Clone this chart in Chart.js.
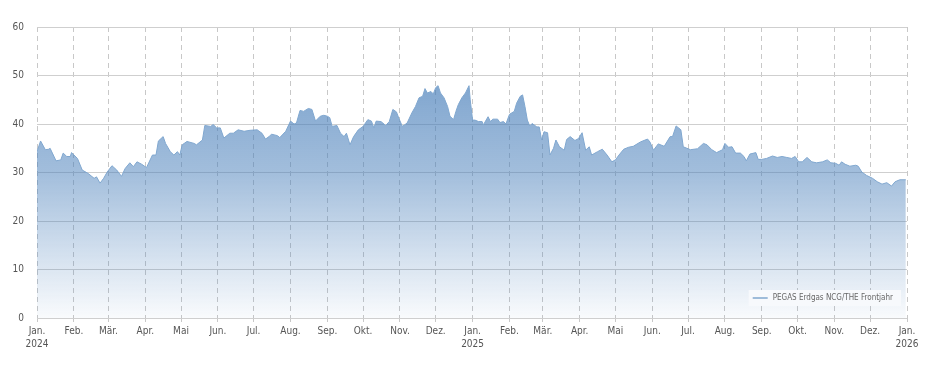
<!DOCTYPE html>
<html lang="de">
<head>
<meta charset="utf-8">
<title>PEGAS Erdgas NCG/THE Frontjahr</title>
<script src="https://cdn.jsdelivr.net/npm/chart.js@4/dist/chart.umd.min.js"></script>
<style>
  body { margin: 0; background: #fff; }
  #grafico { display: block; }
</style>
</head>
<body>
<canvas id="grafico" width="930" height="370"></canvas>
<script>
// Tage seit 01.01.2024
var tage = [
    0, 3, 7, 10, 11, 16, 20, 22, 25, 28, 29, 34, 38, 43, 48, 50, 53, 56, 59, 63,
    67, 71, 74, 78, 81, 84, 88, 92, 97, 100, 102, 106, 108, 112, 115, 118, 120, 122, 126, 132,
    134, 139, 141, 146, 148, 151, 154, 157, 162, 165, 169, 174, 179, 185, 189, 192, 195, 197, 202, 204,
    209, 213, 216, 218, 221, 224, 228, 231, 234, 238, 241, 244, 246, 248, 252, 255, 258, 260, 263, 266,
    270, 274, 278, 281, 283, 285, 289, 293, 296, 299, 302, 304, 307, 311, 315, 318, 321, 324, 326, 328,
    331, 333, 335, 337, 339, 342, 345, 347, 350, 352, 354, 357, 360, 363, 364, 366, 368, 371, 374, 375,
    379, 381, 383, 387, 389, 392, 394, 397, 401, 403, 406, 408, 410, 412, 414, 416, 420, 422, 424, 426,
    429, 431, 434, 436, 439, 443, 445, 448, 452, 455, 458, 461, 464, 466, 471, 475, 479, 483, 486, 489,
    493, 497, 501, 507, 513, 515, 518, 522, 527, 532, 534, 537, 541, 543, 549, 555, 560, 563, 567, 571,
    576, 578, 581, 584, 587, 591, 594, 596, 599, 604, 606, 609, 613, 618, 622, 626, 630, 634, 637, 640,
    643, 647, 651, 655, 660, 664, 667, 671, 674, 676, 679, 683, 688, 690, 693, 697, 702, 706, 710, 714,
    718, 721, 725, 730
];

// Preis in EUR/MWh
var werte = [
    34.3, 36.5, 34.7, 34.8, 35.0, 32.4, 32.6, 34.0, 33.3, 33.3, 34.1, 32.9, 30.5, 29.8, 28.8, 29.1, 27.8, 28.8, 30.1, 31.4,
    30.5, 29.2, 30.8, 32.0, 31.2, 32.2, 31.7, 31.0, 33.6, 33.6, 36.5, 37.4, 36.0, 34.3, 33.6, 34.3, 33.6, 35.7, 36.4, 36.0,
    35.7, 36.7, 39.7, 39.5, 39.9, 39.2, 39.2, 37.1, 38.1, 38.1, 38.8, 38.5, 38.7, 38.8, 38.1, 36.9, 37.4, 37.9, 37.6, 37.2,
    38.5, 40.6, 40.0, 40.2, 42.8, 42.6, 43.2, 43.0, 40.6, 41.6, 41.8, 41.6, 41.3, 39.5, 39.7, 38.1, 37.4, 38.1, 35.7, 37.4,
    38.8, 39.5, 40.9, 40.6, 39.2, 40.6, 40.5, 39.7, 40.5, 43.0, 42.5, 41.2, 39.5, 40.2, 42.3, 43.6, 45.4, 45.7, 47.3, 46.4,
    46.7, 46.2, 47.5, 47.9, 46.4, 45.4, 43.6, 41.6, 40.9, 42.6, 44.0, 45.4, 46.4, 47.9, 45.0, 40.8, 40.8, 40.5, 40.5, 39.8,
    41.5, 40.5, 41.0, 41.0, 40.3, 40.5, 40.0, 42.0, 42.6, 44.3, 45.7, 46.0, 43.6, 40.8, 39.6, 40.1, 39.4, 39.4, 36.7, 38.4,
    38.2, 33.6, 35.0, 36.7, 35.3, 34.6, 36.8, 37.4, 36.6, 37.0, 38.2, 34.6, 35.3, 33.6, 34.3, 34.8, 33.6, 32.2, 32.6, 33.6,
    34.8, 35.2, 35.4, 36.3, 36.9, 36.3, 34.6, 35.9, 35.4, 37.4, 37.4, 39.6, 38.8, 35.3, 34.7, 34.9, 36.0, 35.7, 34.7, 34.1,
    34.7, 36.0, 35.2, 35.3, 34.0, 34.0, 33.3, 32.4, 33.8, 34.1, 32.7, 32.7, 32.9, 33.4, 33.1, 33.3, 33.1, 32.9, 33.3, 32.2,
    32.2, 33.1, 32.2, 32.0, 32.2, 32.6, 32.0, 31.9, 31.5, 32.2, 31.7, 31.3, 31.5, 31.3, 30.1, 29.4, 28.8, 28.1, 27.6, 27.9,
    27.2, 28.1, 28.5, 28.5
];

var monate = ['Jan.', 'Feb.', 'Mär.', 'Apr.', 'Mai', 'Jun.', 'Jul.', 'Aug.', 'Sep.', 'Okt.', 'Nov.', 'Dez.'];
var serienName = 'PEGAS Erdgas NCG/THE Frontjahr';

var schrift = '"DejaVu Sans Condensed", "Liberation Sans Narrow", "DejaVu Sans", sans-serif';
var linienFarbe = 'rgb(128, 167, 207)';

// Monatsanfänge als Tageszahl
var start = Date.UTC(2024, 0, 1);
var tickTage = [];
var tickLabels = {};
for (var i = 0; i <= 24; i++) {
    var j = 2024 + Math.floor(i / 12);
    var m = i % 12;
    var t = Math.round((Date.UTC(j, m, 1) - start) / 86400000);
    tickTage.push(t);
    tickLabels[t] = m === 0 ? [monate[m], String(j)] : monate[m];
}

var punkte = tage.map(function (t, k) {
    return { x: t, y: werte[k] };
});

// Legende unten rechts im Diagramm
var legendePlugin = {
    id: 'legendeUnten',
    afterDraw: function (chart) {
        var ctx = chart.ctx;
        var area = chart.chartArea;
        ctx.save();
        ctx.font = '8px ' + schrift;
        var w = ctx.measureText(serienName).width;
        var tx = area.right - 14 - w;
        var ty = area.bottom - 20;
        ctx.fillStyle = 'rgb(247, 249, 252)';
        ctx.fillRect(tx - 24, ty - 8, w + 32, 16);
        ctx.strokeStyle = linienFarbe;
        ctx.lineWidth = 1.5;
        ctx.beginPath();
        ctx.moveTo(tx - 20, ty);
        ctx.lineTo(tx - 5, ty);
        ctx.stroke();
        ctx.fillStyle = '#666';
        ctx.textBaseline = 'middle';
        ctx.fillText(serienName, tx, ty);
        ctx.restore();
    }
};

var ctx = document.getElementById('grafico').getContext('2d');
var myChart = new Chart(ctx, {
    type: 'line',
    data: {
        datasets: [{
            label: serienName,
            data: punkte,
            borderColor: linienFarbe,
            borderWidth: 1,
            pointRadius: 0,
            tension: 0,
            fill: 'origin',
            backgroundColor: function (context) {
                var area = context.chart.chartArea;
                if (!area) return 'rgba(70, 125, 185, 0.5)';
                var g = context.chart.ctx.createLinearGradient(0, area.top, 0, area.bottom);
                g.addColorStop(0, 'rgba(70, 125, 185, 0.8)');
                g.addColorStop(0.5, 'rgba(70, 125, 185, 0.5)');
                g.addColorStop(1, 'rgba(70, 125, 185, 0.03)');
                return g;
            }
        }]
    },
    options: {
        responsive: false,
        animation: false,
        layout: {
            padding: { top: 27, right: 23, left: 0, bottom: 0 }
        },
        scales: {
            x: {
                type: 'linear',
                min: 0,
                max: 731,
                afterBuildTicks: function (scale) {
                    scale.ticks = tickTage.map(function (v) { return { value: v }; });
                },
                afterFit: function (scale) {
                    scale.height = 52;
                },
                grid: {
                    color: '#c8c8c8',
                    lineWidth: 1,
                    tickLength: 4
                },
                border: {
                    display: false,
                    dash: [5, 4]
                },
                ticks: {
                    autoSkip: false,
                    maxRotation: 0,
                    padding: 3,
                    color: '#555',
                    font: { family: schrift, size: 10, lineHeight: 1.3 },
                    callback: function (value) {
                        return tickLabels[value];
                    }
                }
            },
            y: {
                min: 0,
                max: 60,
                afterFit: function (scale) {
                    scale.width = 37;
                },
                grid: {
                    color: '#cfcfcf',
                    lineWidth: 1,
                    drawTicks: false
                },
                border: { display: false },
                ticks: {
                    stepSize: 10,
                    padding: 13,
                    color: '#555',
                    font: { family: schrift, size: 10 }
                }
            }
        },
        plugins: {
            legend: { display: false },
            tooltip: { enabled: false }
        }
    },
    plugins: [legendePlugin]
});
</script>
</body>
</html>
